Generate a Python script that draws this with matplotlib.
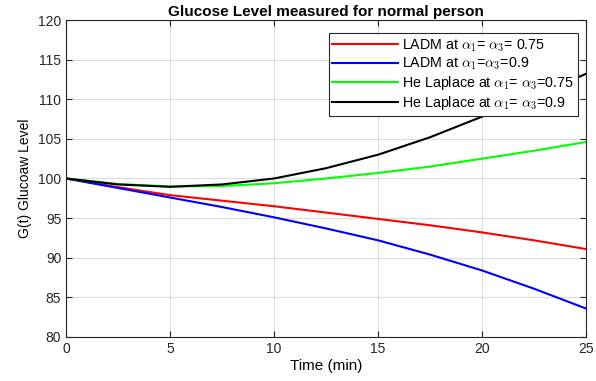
import matplotlib
matplotlib.use("Agg")
import matplotlib.pyplot as plt
import numpy as np

plt.rcParams["font.family"] = ["Liberation Sans", "DejaVu Sans"]
plt.rcParams["mathtext.fontset"] = "cm"

t = [0, 2.5, 5, 7.5, 10, 12.5, 15, 17.5, 20, 22.5, 25]
ladm_075 = [100, 98.9, 97.9, 97.2, 96.5, 95.7, 94.9, 94.1, 93.2, 92.2, 91.1]
ladm_09 = [100, 98.8, 97.6, 96.4, 95.1, 93.7, 92.2, 90.4, 88.4, 86.1, 83.6]
he_075 = [100, 99.3, 99.0, 99.05, 99.4, 100.0, 100.7, 101.5, 102.5, 103.5, 104.6]
he_09 = [100, 99.25, 98.95, 99.25, 100.0, 101.3, 103.0, 105.2, 107.8, 110.4, 113.2]

labels = [
    r"LADM at $\alpha_1$= $\alpha_3$= 0.75",
    r"LADM at $\alpha_1$=$\alpha_3$=0.9",
    r"He Laplace at $\alpha_1$= $\alpha_3$=0.75",
    r"He Laplace at $\alpha_1$= $\alpha_3$=0.9",
]
colors = ["#ff0000", "#0000ff", "#00ff00", "#000000"]

fig = plt.figure(figsize=(5.96, 3.81), dpi=100)
ax = fig.add_axes([0.111, 0.1155, 0.872, 0.832])

for y, lab, c in zip([ladm_075, ladm_09, he_075, he_09], labels, colors):
    ax.plot(t, y, color=c, lw=1.5, label=lab)

ax.set_xlim(0, 25)
ax.set_ylim(80, 120)
ax.set_xticks(np.arange(0, 26, 5))
ax.set_yticks(np.arange(80, 121, 5))
ax.grid(True, color="#dcdcdc", lw=0.8)
ax.tick_params(direction="in", top=True, right=True, labelsize=10, colors="#262626", length=4)
for s in ax.spines.values():
    s.set_color("#262626")
ax.set_xlabel("Time (min)", fontsize=11, labelpad=2)
ax.set_ylabel("G(t) Glucoaw Level", fontsize=10, labelpad=4)
ax.set_title("Glucose Level measured for normal person", fontsize=11, fontweight="bold", pad=3)

leg = ax.legend(loc="upper right", bbox_to_anchor=(0.998, 0.98), fontsize=10.3, frameon=True,
                fancybox=False, edgecolor="#262626", framealpha=1, handlelength=4.6,
                borderpad=0.25, labelspacing=0.15, handletextpad=0.3)
leg.get_frame().set_linewidth(0.8)

fig.savefig("out.png", dpi=100)
